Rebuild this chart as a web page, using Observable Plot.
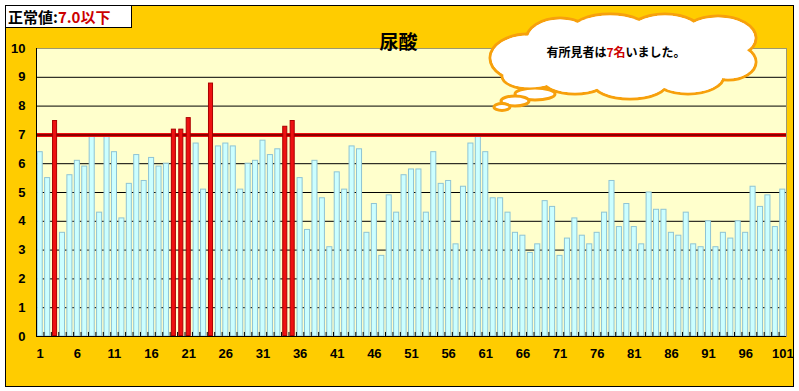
<!DOCTYPE html>
<html>
<head>
<meta charset="utf-8">
<script src="https://cdn.jsdelivr.net/npm/d3@7"></script>
<script src="https://cdn.jsdelivr.net/npm/@observablehq/plot@0.6"></script>
<style>
  body { margin: 0; background: #ffffff; }
  #wrap { position: relative; width: 799px; height: 391px; overflow: hidden; }
  #panel { position: absolute; left: 5px; top: 5px; width: 789px; height: 382px; box-sizing: border-box; border: 1px solid #000; background: #ffcc00; }
  #chart { position: absolute; left: 0; top: 0; }
  #cloud { position: absolute; left: 0; top: 0; }
  #norm { position: absolute; left: 5px; top: 5px; width: 127px; height: 23px; box-sizing: border-box; border: 1px solid #000; background: #fff;
          font-family: "Noto Sans CJK JP", sans-serif; font-weight: bold; font-size: 15px; line-height: 22px; padding-left: 2px; color: #000; white-space: nowrap; }
  #norm span { color: #cc0000; }
</style>
</head>
<body>
<div id="wrap">
  <div id="panel"></div>
  <div id="chart"></div>
  <svg id="cloud" width="799" height="391"></svg>
  <div id="norm">正常値:<span>7.0以下</span></div>
</div>
<script>
// ---- data ----
const title = "尿酸";
const limit = 7.0;
const ids = d3.range(1, 102);
const values = [
  6.4, 5.5, 7.5, 3.6, 5.6, 6.1, 5.9, 7.0, 4.3, 7.0,
  6.4, 4.1, 5.3, 6.3, 5.4, 6.2, 5.9, 6.0, 7.2, 7.2,
  7.6, 6.7, 5.1, 8.8, 6.6, 6.7, 6.6, 5.1, 6.0, 6.1,
  6.8, 6.3, 6.5, 7.3, 7.5, 5.5, 3.7, 6.1, 4.8, 3.1,
  5.7, 5.1, 6.6, 6.5, 3.6, 4.6, 2.8, 4.9, 4.3, 5.6,
  5.8, 5.8, 4.3, 6.4, 5.3, 5.4, 3.2, 5.2, 6.7, 7.0,
  6.4, 4.8, 4.8, 4.3, 3.6, 3.5, 2.9, 3.2, 4.7, 4.5,
  2.8, 3.4, 4.1, 3.5, 3.2, 3.6, 4.3, 5.4, 3.8, 4.6,
  3.8, 3.2, 5.0, 4.4, 4.4, 3.6, 3.5, 4.3, 3.2, 3.1,
  4.0, 3.1, 3.6, 3.4, 4.0, 3.6, 5.2, 4.5, 4.9, 3.8, 5.1
];
const xTickLabels = [1, 6, 11, 16, 21, 26, 31, 36, 41, 46, 51, 56, 61, 66, 71, 76, 81, 86, 91, 96, 101];
const yTickLabels = [0, 1, 2, 3, 4, 5, 6, 7, 8, 9, 10];
const gridLines = [1, 2, 3, 4, 5, 6, 7, 8, 9];
const calloutPre = "有所見者は";
const calloutCount = "7名";
const calloutPost = "いました。";

const data = ids.map((id, i) => ({id, v: values[i]}));
const normal = data.filter(d => d.v <= limit);
const over = data.filter(d => d.v > limit);

const W = 799, H = 391, mL = 36, mR = 13, mT = 48, mB = 55;
const step = (W - mL - mR) / ids.length;

const chart = Plot.plot({
  width: W, height: H,
  marginLeft: mL, marginRight: mR, marginTop: mT, marginBottom: mB,
  style: {background: "transparent", fontFamily: "'Liberation Sans', Arial, sans-serif", fontSize: "13px", fontWeight: "bold", color: "#000"},
  x: {type: "band", domain: ids, paddingInner: 0.32, paddingOuter: 0.16, ticks: xTickLabels, tickSize: 0, tickPadding: 12, label: null},
  y: {domain: [0, 10], ticks: yTickLabels, tickSize: 0, tickPadding: 11, label: null},
  marks: [
    Plot.frame({fill: "#ffffcc", stroke: "#9c9870"}),
    Plot.ruleY(gridLines, {stroke: "#000", strokeWidth: 1}),
    Plot.barY(normal, {x: "id", y: "v", fill: "#ccffff", stroke: "#8fc4d4", strokeWidth: 1}),
    Plot.ruleY([limit], {stroke: "#ee1111", strokeWidth: 4}),
    Plot.ruleY([limit], {stroke: "#8b0000", strokeWidth: 2}),
    Plot.barY(over, {x: "id", y: "v", fill: "#ee1111", stroke: "#aa0000", strokeWidth: 1, inset: 0.5}),
    Plot.ruleX(ids.slice(1), {x: d => d, y1: 0, y2: 0.14, dx: -step / 2, stroke: "#000"}),
    Plot.ruleX([ids[0]], {x: d => d, dx: -step / 2, stroke: "#000"}),
    Plot.ruleY([0], {stroke: "#000"}),
    Plot.text([title], {frameAnchor: "top", dy: -13, dx: -13, fontSize: 19, fontWeight: "bold", fontFamily: "'Noto Sans CJK JP', sans-serif", fill: "#000"})
  ]
});
document.getElementById("chart").appendChild(chart);

// ---- decorative thought-cloud callout ----
const svg = d3.select("#cloud");
const blobs = [
  {cx: 528, cy: 58, rx: 38, ry: 24},
  {cx: 560, cy: 40, rx: 34, ry: 22},
  {cx: 610, cy: 32, rx: 40, ry: 18},
  {cx: 665, cy: 34, rx: 38, ry: 20},
  {cx: 718, cy: 38, rx: 38, ry: 22},
  {cx: 728, cy: 62, rx: 28, ry: 18},
  {cx: 688, cy: 76, rx: 36, ry: 18},
  {cx: 630, cy: 82, rx: 38, ry: 17},
  {cx: 575, cy: 78, rx: 34, ry: 16},
  {cx: 530, cy: 76, rx: 28, ry: 13},
  {cx: 620, cy: 57, rx: 110, ry: 28}
];
const tail = [
  {cx: 535, cy: 94, rx: 20, ry: 6},
  {cx: 515, cy: 101, rx: 14, ry: 5},
  {cx: 502, cy: 107, rx: 8, ry: 3.5}
];
const all = blobs.concat(tail);
svg.selectAll("ellipse.o").data(all).join("ellipse")
  .attr("cx", d => d.cx).attr("cy", d => d.cy).attr("rx", d => d.rx).attr("ry", d => d.ry)
  .attr("fill", "#fff").attr("stroke", "#f7a00c").attr("stroke-width", 3);
svg.selectAll("ellipse.i").data(blobs).join("ellipse")
  .attr("cx", d => d.cx).attr("cy", d => d.cy).attr("rx", d => d.rx - 1.5).attr("ry", d => d.ry - 1.5)
  .attr("fill", "#fff");
const t = svg.append("text").attr("x", 616).attr("y", 57).attr("text-anchor", "middle")
  .attr("font-family", "'Noto Sans CJK JP', sans-serif").attr("font-weight", "bold").attr("font-size", 12).attr("fill", "#000");
t.append("tspan").text(calloutPre);
t.append("tspan").attr("fill", "#cc0000").text(calloutCount);
t.append("tspan").text(calloutPost);
</script>
</body>
</html>
